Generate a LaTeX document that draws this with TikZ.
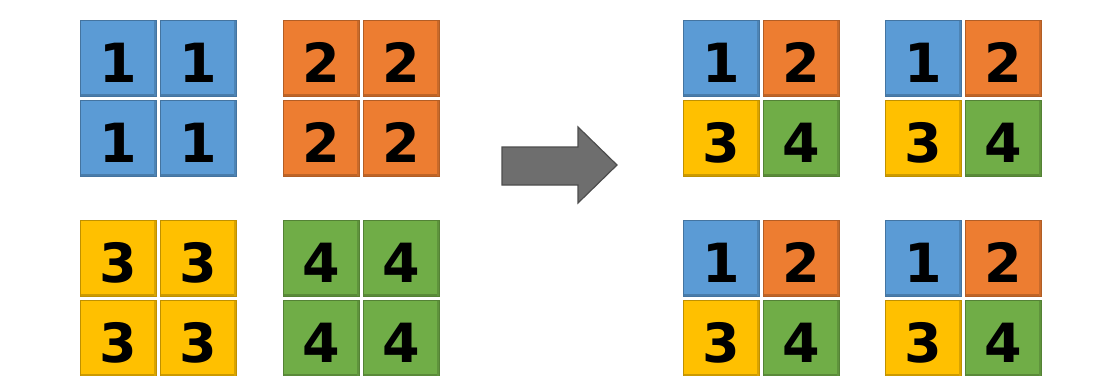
\documentclass[tikz,border=0pt]{standalone}
\usepackage{fontspec}
\usepackage{tikz}
\newfontfamily\digitfont{DejaVu Sans}
\definecolor{tileblue}{HTML}{5B9BD5}
\definecolor{tileorange}{HTML}{ED7D31}
\definecolor{tileyellow}{HTML}{FFC000}
\definecolor{tilegreen}{HTML}{70AD47}
\definecolor{arrowgray}{HTML}{6E6E6E}

\begin{document}
\begin{tikzpicture}[
    x=1pt, y=-1pt,
    tile/.style={rectangle, draw=#1!75!black, fill=#1, line width=1pt,
        minimum size=76pt, inner sep=0pt, text height=48pt, text depth=0pt,
        font=\digitfont\bfseries\fontsize{54}{60}\selectfont,
        path picture={
            \fill[#1!80!black] (path picture bounding box.south west)
                rectangle ([yshift=3pt]path picture bounding box.south east);
            \fill[#1!85!black] (path picture bounding box.south east)
                rectangle ([xshift=-3pt]path picture bounding box.north east);
        }},
    shift arrow/.style={draw=arrowgray!70!black, fill=arrowgray, line width=1.2pt, line join=miter}
]
    \useasboundingbox (0,0) rectangle (1111,375);

    % input blocks: each one filled with a single value
    \foreach \gx/\gy/\col/\val/\nm in {80/20/tileblue/1/a, 283/20/tileorange/2/b,
                                        80/220/tileyellow/3/c, 283/220/tilegreen/4/d}{
        \node[tile=\col] (\nm11) at (\gx+38.5,\gy+38.5) {\val};
        \node[tile=\col] (\nm12) at (\gx+118.5,\gy+38.5) {\val};
        \node[tile=\col] (\nm21) at (\gx+38.5,\gy+118.5) {\val};
        \node[tile=\col] (\nm22) at (\gx+118.5,\gy+118.5) {\val};
    }

    % shift arrow
    \draw[shift arrow] (502,147) -- (578,147) -- (578,127) -- (617,165)
        -- (578,203) -- (578,185) -- (502,185) -- cycle;

    % output blocks: one value from each input block
    \foreach \gx/\gy/\nm in {683/20/p, 885/20/q, 683/220/r, 885/220/s}{
        \node[tile=tileblue] (\nm11) at (\gx+38.5,\gy+38.5) {1};
        \node[tile=tileorange] (\nm12) at (\gx+118.5,\gy+38.5) {2};
        \node[tile=tileyellow] (\nm21) at (\gx+38.5,\gy+118.5) {3};
        \node[tile=tilegreen] (\nm22) at (\gx+118.5,\gy+118.5) {4};
    }
\end{tikzpicture}
\end{document}
